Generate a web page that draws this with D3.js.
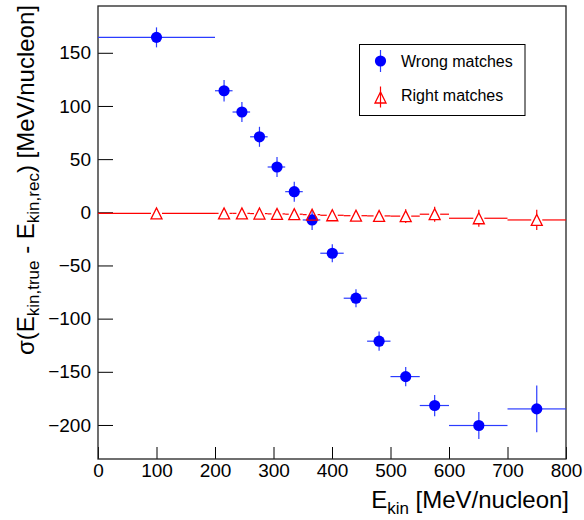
<!DOCTYPE html>
<html>
<head>
<meta charset="utf-8">
<script src="https://cdn.jsdelivr.net/npm/d3@7"></script>
<style>
body { margin: 0; background: #fff; }
text { font-family: "Liberation Sans", Arial, Helvetica, sans-serif; }
</style>
</head>
<body>
<div id="fig"></div>
<script>
// bins in E_kin [MeV/nucleon]
var binLo = [0, 200, 230, 260, 290, 320, 350, 380, 420, 460, 500, 550, 600, 700];
var binHi = [200, 230, 260, 290, 320, 350, 380, 420, 460, 500, 550, 600, 700, 800];
var ekin  = [100, 215.5, 246, 276, 306, 335.5, 366, 400.5, 441, 480.5, 526, 575.5, 651, 750];

var wrongVal = [164.5, 114.3, 94.3, 71, 42.6, 19.4, -7.2, -38.5, -80.8, -121.2, -154.5, -181.7, -200.5, -184.9];
var wrongErr = [9.4, 10, 9.5, 9.4, 9.4, 9.4, 9.4, 8.5, 8.5, 9, 9, 10, 12.7, 22];

var rightVal = [-1, -1, -1, -1.2, -1.5, -1.8, -2.2, -2.8, -3.2, -3.4, -3.6, -1.8, -5.6, -7.2];
var rightErr = [3, 3, 3, 3, 3, 3.5, 4, 4, 4.5, 5, 6.5, 7, 8, 9.5];

var xTicks = [0, 100, 200, 300, 400, 500, 600, 700, 800];
var yTicks = [-200, -150, -100, -50, 0, 50, 100, 150];

(function() {
  var W = 584, H = 520;
  var pl = 98, pr = 566, pt = 6, pb = 459;

  var x = d3.scaleLinear().domain([0, 800]).range([pl, pr]);
  var y = d3.scaleLinear().domain([-232, 194]).range([pb, pt]);

  var svg = d3.select("#fig").append("svg")
      .attr("width", W).attr("height", H);

  var fmt = function(d) { return d < 0 ? "\u2212" + Math.abs(d) : "" + d; };

  // axes (ticks point into the frame, ROOT style)
  var xMinor = d3.range(0, 801, 20).filter(function(v) { return v % 100 !== 0; });
  var yMinor = d3.range(-230, 194, 10).filter(function(v) { return v % 50 !== 0; });

  var gx = svg.append("g").attr("transform", "translate(0," + pb + ")");
  gx.call(d3.axisBottom(x).tickValues(xMinor).tickSize(-6).tickSizeOuter(0).tickFormat(""));
  gx.call(d3.axisBottom(x).tickValues(xTicks).tickSize(-12).tickSizeOuter(0).tickPadding(4).tickFormat(fmt));

  var gy = svg.append("g").attr("transform", "translate(" + pl + ",0)");
  gy.call(d3.axisLeft(y).tickValues(yMinor).tickSize(-7.5).tickSizeOuter(0).tickFormat(""));
  gy.call(d3.axisLeft(y).tickValues(yTicks).tickSize(-15).tickSizeOuter(0).tickPadding(7).tickFormat(fmt));

  svg.selectAll(".tick line").attr("stroke", "#000").attr("stroke-width", 1);
  svg.selectAll(".domain").remove();
  svg.selectAll(".tick text").attr("font-size", 19).attr("fill", "#000")
      .attr("font-family", "'Liberation Sans', Arial, Helvetica, sans-serif");
  gx.selectAll(".tick text").attr("dy", "0.71em").attr("y", 5);

  // frame
  svg.append("rect")
      .attr("x", pl).attr("y", pt)
      .attr("width", pr - pl).attr("height", pb - pt)
      .attr("fill", "none").attr("stroke", "#222").attr("stroke-width", 1.3);

  var pts = ekin.map(function(e, i) {
    return { e: e, lo: binLo[i], hi: binHi[i],
             w: wrongVal[i], we: wrongErr[i],
             r: rightVal[i], re: rightErr[i] };
  });

  // error bar segments, leaving a gap of `gap` px around the marker
  function errSegs(d, val, err, gap) {
    var cx = x(d.e), cy = y(val);
    var segs = [];
    segs.push([x(d.lo), cy, cx - gap, cy]);
    segs.push([cx + gap, cy, x(d.hi), cy]);
    var yt = y(val + err), yb = y(val - err);
    if (cy - yt > gap) {
      segs.push([cx, yt, cx, cy - gap]);
      segs.push([cx, cy + gap, cx, yb]);
    }
    return segs;
  }

  function drawSegs(g, segs, col) {
    g.selectAll(null).data(segs).enter().append("line")
      .attr("x1", function(q) { return q[0]; }).attr("y1", function(q) { return q[1]; })
      .attr("x2", function(q) { return q[2]; }).attr("y2", function(q) { return q[3]; })
      .attr("stroke", col).attr("stroke-width", 1.2);
  }

  // wrong matches
  var gW = svg.append("g");
  pts.forEach(function(d) { drawSegs(gW, errSegs(d, d.w, d.we, 0), "#2b3cff"); });
  gW.selectAll("circle").data(pts).enter().append("circle")
    .attr("cx", function(d) { return x(d.e); })
    .attr("cy", function(d) { return y(d.w); })
    .attr("r", 5.6).attr("fill", "#0000ff");

  // right matches
  var s = 5.5;
  function tri(cx, cy) {
    return "M" + (cx - s) + "," + (cy + s) + "L" + (cx + s) + "," + (cy + s) + "L" + cx + "," + (cy - s) + "Z";
  }
  var gR = svg.append("g");
  pts.forEach(function(d) { drawSegs(gR, errSegs(d, d.r, d.re, s), "#ff0000"); });
  gR.selectAll("path").data(pts).enter().append("path")
    .attr("d", function(d) { return tri(x(d.e), y(d.r)); })
    .attr("fill", "none").attr("stroke", "#ff0000").attr("stroke-width", 1.3);

  // legend
  var lg = svg.append("g");
  lg.append("rect").attr("x", 359.5).attr("y", 44.5).attr("width", 165.5).attr("height", 71)
    .attr("fill", "#fff").attr("stroke", "#000").attr("stroke-width", 1);
  lg.append("line").attr("x1", 380.5).attr("x2", 380.5).attr("y1", 50).attr("y2", 72)
    .attr("stroke", "#2b3cff").attr("stroke-width", 1.2);
  lg.append("circle").attr("cx", 380.5).attr("cy", 61).attr("r", 5.6).attr("fill", "#0000ff");
  lg.append("line").attr("x1", 380.5).attr("x2", 380.5).attr("y1", 86.5).attr("y2", 107.5)
    .attr("stroke", "#ff0000").attr("stroke-width", 1.2);
  lg.append("path").attr("d", tri(380.5, 97.5)).attr("fill", "none")
    .attr("stroke", "#ff0000").attr("stroke-width", 1.3);
  lg.append("text").attr("x", 401).attr("y", 66.5).attr("font-size", 16).text("Wrong matches");
  lg.append("text").attr("x", 401).attr("y", 101).attr("font-size", 16).text("Right matches");

  // x title
  var xt = svg.append("text").attr("x", 569).attr("y", 508)
    .attr("text-anchor", "end").attr("font-size", 24);
  xt.append("tspan").text("E");
  xt.append("tspan").attr("font-size", 17).attr("dy", 6).text("kin");
  xt.append("tspan").attr("dy", -6).text(" [MeV/nucleon]");

  // y title
  var yt = svg.append("text")
    .attr("transform", "translate(34,5) rotate(-90)")
    .attr("text-anchor", "end").attr("font-size", 24);
  yt.append("tspan").text("\u03c3(E");
  yt.append("tspan").attr("font-size", 17).attr("dy", 5).text("kin,true");
  yt.append("tspan").attr("dy", -5).text(" - E");
  yt.append("tspan").attr("font-size", 17).attr("dy", 5).text("kin,rec");
  yt.append("tspan").attr("dy", -5).text(") [MeV/nucleon]");
})();
</script>
</body>
</html>
